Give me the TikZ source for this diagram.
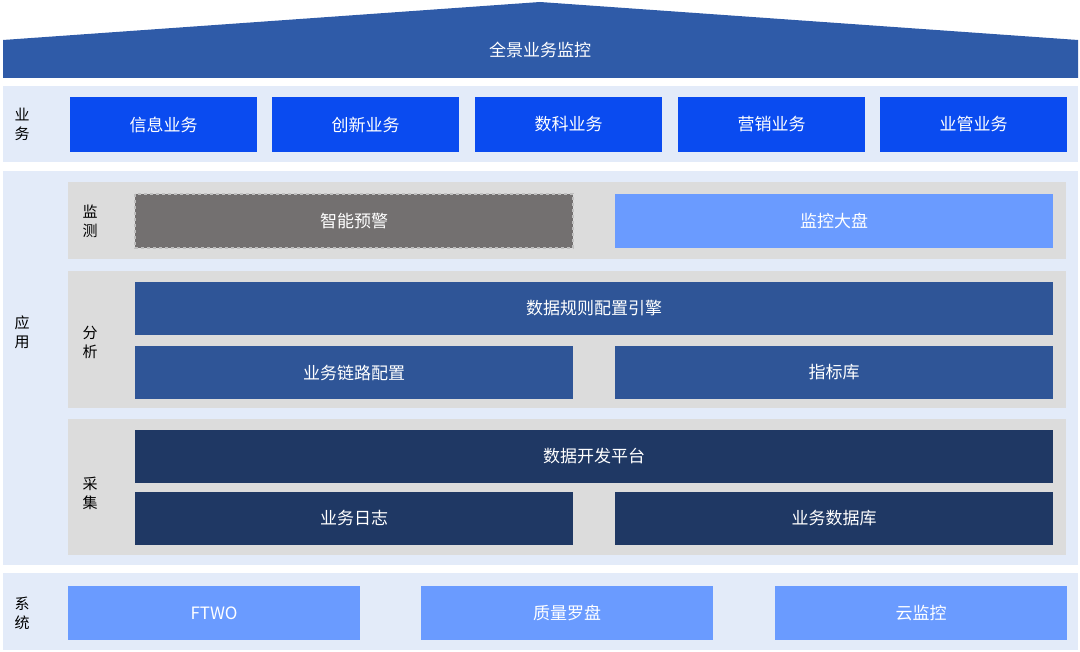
\documentclass[tikz,border=0pt]{standalone}
\usepackage{fontspec}
\setmainfont{Noto Sans CJK SC}
\usetikzlibrary{positioning}

\definecolor{roofblue}{HTML}{2F5BA8}
\definecolor{bandblue}{HTML}{E3EBF9}
\definecolor{panelgray}{HTML}{DCDCDC}
\definecolor{bizblue}{HTML}{0A4BF0}
\definecolor{lightblue}{HTML}{6A9BFF}
\definecolor{midblue}{HTML}{2F5597}
\definecolor{darkblue}{HTML}{1F3864}
\definecolor{warngray}{HTML}{737070}

\begin{document}
\begin{tikzpicture}[
        x = 1pt, y = -1pt, % pixel grid of the reference
        box/.style = {inner sep=0pt, font=\fontsize{17}{20}\selectfont, text=white},
        tag/.style = {font=\fontsize{15}{19}\selectfont, align=center, text=black}
    ]

    \useasboundingbox (0,0) rectangle (1080,652);

    % roof
    \fill[roofblue] (3,40) -- (540,2) -- (1078,40) -- (1078,78) -- (3,78) -- cycle;
    \node[box] (top) at (540,50) {全景业务监控};

    % bands
    \fill[bandblue] (3,86) rectangle (1078,162);
    \fill[bandblue] (3,171) rectangle (1078,565);
    \fill[bandblue] (3,573) rectangle (1078,650);
    \fill[panelgray] (68,182) rectangle (1066,259);
    \fill[panelgray] (68,271) rectangle (1066,408);
    \fill[panelgray] (68,419) rectangle (1066,555);

    \node[tag] (lbiz) at (22,124) {业\\务};
    \node[tag] (lapp) at (22,332) {应\\用};
    \node[tag] (lsys) at (22,613) {系\\统};
    \node[tag] (lmon) at (90,221) {监\\测};
    \node[tag] (lana) at (90,342) {分\\析};
    \node[tag] (lcol) at (90,493) {采\\集};

    % business
    \foreach \x/\t in {70/信息业务, 272/创新业务, 475/数科业务, 678/营销业务, 880/业管业务}
        \fill[bizblue] (\x,97) rectangle ++(187,55) node[box, midway] {\t};

    % monitoring
    \fill[warngray] (135,194) rectangle (573,248) node[box, midway] (warn) {智能预警};
    \draw[gray!50, dashed, line width=2pt] (135,194) rectangle (573,248);
    \fill[lightblue] (615,194) rectangle (1053,248) node[box, midway] (dash) {监控大盘};

    % analysis
    \fill[midblue] (135,282) rectangle (1053,335) node[box, midway] (engine) {数据规则配置引擎};
    \fill[midblue] (135,346) rectangle (573,399) node[box, midway] (chain) {业务链路配置};
    \fill[midblue] (615,346) rectangle (1053,399) node[box, midway] (metric) {指标库};

    % collection
    \fill[darkblue] (135,430) rectangle (1053,483) node[box, midway] (devp) {数据开发平台};
    \fill[darkblue] (135,492) rectangle (573,545) node[box, midway] (log) {业务日志};
    \fill[darkblue] (615,492) rectangle (1053,545) node[box, midway] (db) {业务数据库};

    % systems
    \fill[lightblue] (68,586) rectangle (360,640) node[box, midway] (ftwo) {FTWO};
    \fill[lightblue] (421,586) rectangle (713,640) node[box, midway] (qual) {质量罗盘};
    \fill[lightblue] (775,586) rectangle (1067,640) node[box, midway] (cloud) {云监控};

\end{tikzpicture}
\end{document}
